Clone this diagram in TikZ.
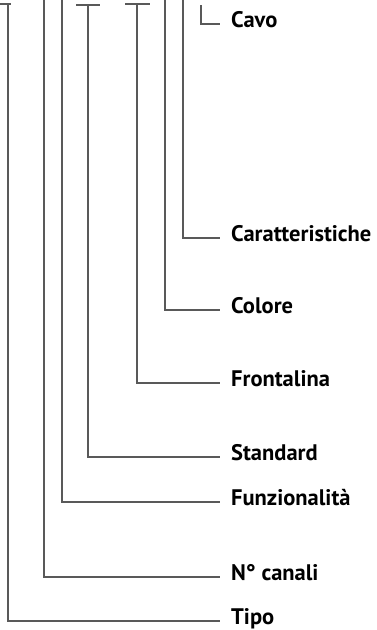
\documentclass[tikz,border=0pt]{standalone}
\usepackage{fontspec}
\setmainfont{PT Sans}
\usetikzlibrary{positioning}

\begin{document}
\begin{tikzpicture}[x=1pt, y=-1pt,
                every node/.style={anchor=west, font=\bfseries\fontsize{22.5}{24}\selectfont, inner xsep=11pt, inner ysep=0pt, text height=1.25ex, text depth=0pt},
                branch/.style={draw=black!65, line width=1.4pt}]
                \useasboundingbox (0,0) rectangle (376,630);
                % labels
                \node (cavo)  at (220,24)  {Cavo};
                \node (caratt) at (220,238) {Caratteristiche};
                \node (colore) at (220,310) {Colore};
                \node (front) at (220,383) {Frontalina};
                \node (std)   at (220,457) {Standard};
                \node (funz)  at (220,502) {Funzionalità};
                \node (canali) at (220,577) {N° canali};
                \node (tipo)  at (220,621) {Tipo};
                % tops
                \coordinate (tcavo)   at (201,5);
                \coordinate (tcaratt) at (183,0);
                \coordinate (tcolore) at (165,0);
                \coordinate (tfront)  at (137,4);
                \coordinate (tstd)    at (88,5);
                \coordinate (tfunz)   at (62,0);
                \coordinate (tcanali) at (44,0);
                \coordinate (ttipo)   at (8,4);
                % little bars on top
                \draw[branch] (0,4) -- (ttipo) -- (11,4);
                \draw[branch] (76,5) -- (tstd) -- (100,5);
                \draw[branch] (125,4) -- (tfront) -- (150,4);
                % branches
                \draw[branch] (tcavo)   |- (cavo.west);
                \draw[branch] (tcaratt) |- (caratt.west);
                \draw[branch] (tcolore) |- (colore.west);
                \draw[branch] (tfront)  |- (front.west);
                \draw[branch] (tstd)    |- (std.west);
                \draw[branch] (tfunz)   |- (funz.west);
                \draw[branch] (tcanali) |- (canali.west);
                \draw[branch] (ttipo)   |- (tipo.west);
            \end{tikzpicture}
\end{document}
